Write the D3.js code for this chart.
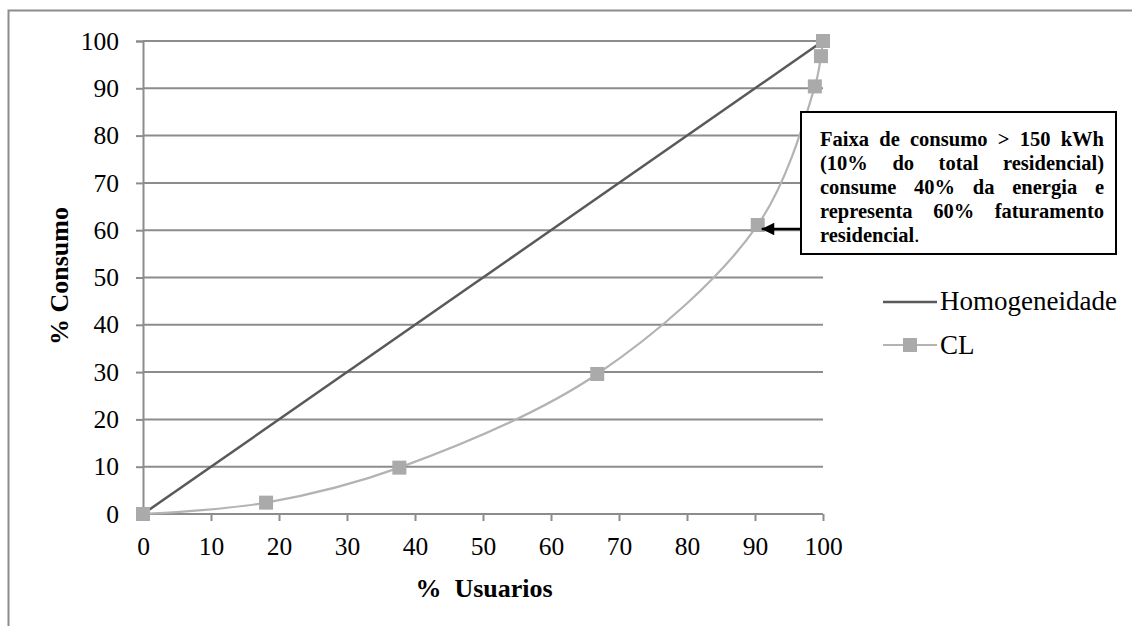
<!DOCTYPE html>
<html>
<head>
<meta charset="utf-8">
<script src="https://cdn.jsdelivr.net/npm/d3@7"></script>
<style>
  body { margin: 0; background: #fff; }
  text { font-family: "Liberation Serif", "Times New Roman", serif; }
</style>
</head>
<body>
<div id="chart"></div>
<script>
// data
var xTicks = [0, 10, 20, 30, 40, 50, 60, 70, 80, 90, 100];
var yTicks = [0, 10, 20, 30, 40, 50, 60, 70, 80, 90, 100];
var homogX = [0, 100];
var homogY = [0, 100];
var clX = [0, 18.1, 37.7, 66.8, 90.4, 98.8, 99.7, 100];
var clY = [0, 2.4, 9.8, 29.6, 61.1, 90.4, 96.8, 100];
var noteLines = ["Faixa de consumo > 150 kWh", "(10% do total residencial)",
                 "consume 40% da energia e", "representa 60% faturamento", "residencial"];

var svg = d3.select("#chart").append("svg")
  .attr("width", 1132).attr("height", 626);

// outer frame
svg.append("rect")
  .attr("x", 8.5).attr("y", 10.5)
  .attr("width", 1140).attr("height", 640)
  .attr("fill", "none").attr("stroke", "#8c8c8c").attr("stroke-width", 2);

var xScale = d3.scaleLinear().domain([0, 100]).range([143, 823]);
var yScale = d3.scaleLinear().domain([0, 100]).range([514, 41]);

// y axis
var yAxis = d3.axisLeft(yScale).tickValues(yTicks).tickSize(7).tickPadding(17);
var yG = svg.append("g").attr("id", "yAxisG").attr("transform", "translate(143,0)").call(yAxis);
yG.select(".domain").attr("stroke", "#8c8c8c").attr("stroke-width", 2);
yG.selectAll("line").attr("stroke", "#8c8c8c").attr("stroke-width", 2);
yG.selectAll("text").style("font-size", "25.5px").attr("fill", "#000")
  .style("font-family", "Liberation Serif");

// gridlines
svg.append("g").selectAll("line.grid")
  .data(yTicks.filter(function(d) { return d > 0; }))
  .enter().append("line")
  .attr("x1", xScale(0)).attr("x2", xScale(100))
  .attr("y1", function(d) { return yScale(d); })
  .attr("y2", function(d) { return yScale(d); })
  .attr("stroke", "#8c8c8c").attr("stroke-width", 2);

// x axis
var xAxis = d3.axisBottom(xScale).tickValues(xTicks).tickSize(7).tickPadding(16);
var xG = svg.append("g").attr("id", "xAxisG").attr("transform", "translate(0,514)").call(xAxis);
xG.select(".domain").attr("d", "M143,0H823").attr("stroke", "#8c8c8c").attr("stroke-width", 2);
xG.selectAll("line").attr("stroke", "#8c8c8c").attr("stroke-width", 2);
xG.selectAll("text").style("font-size", "25.5px").attr("fill", "#000")
  .style("font-family", "Liberation Serif");

// axis titles
svg.append("text")
  .attr("x", 484).attr("y", 597)
  .attr("text-anchor", "middle")
  .style("font-size", "26px").style("font-weight", "bold")
  .style("white-space", "pre")
  .text("%  Usuarios");

svg.append("text")
  .attr("transform", "translate(68,276) rotate(-90)")
  .attr("text-anchor", "middle")
  .style("font-size", "26px").style("font-weight", "bold")
  .text("% Consumo");

// series
var homogData = homogX.map(function(x, i) { return {x: x, y: homogY[i]}; });
var clData = clX.map(function(x, i) { return {x: x, y: clY[i]}; });

var straight = d3.line()
  .x(function(d) { return xScale(d.x); })
  .y(function(d) { return yScale(d.y); });
var smooth = d3.line()
  .x(function(d) { return xScale(d.x); })
  .y(function(d) { return yScale(d.y); })
  .curve(d3.curveCatmullRom);

svg.append("path")
  .attr("d", straight(homogData))
  .attr("fill", "none").attr("stroke", "#595959").attr("stroke-width", 2.5);

svg.append("path")
  .attr("d", smooth(clData))
  .attr("fill", "none").attr("stroke", "#b3b3b3").attr("stroke-width", 2.2);

svg.selectAll("rect.cl")
  .data(clData)
  .enter().append("rect")
  .attr("class", "cl")
  .attr("x", function(d) { return xScale(d.x) - 7; })
  .attr("y", function(d) { return yScale(d.y) - 7; })
  .attr("width", 14).attr("height", 14)
  .attr("fill", "#aaaaaa");

// legend
var legend = svg.append("g").attr("transform", "translate(883,0)");
legend.append("line").attr("x1", 0).attr("x2", 54).attr("y1", 302).attr("y2", 302)
  .attr("stroke", "#595959").attr("stroke-width", 2.5);
legend.append("text").attr("x", 57).attr("y", 310).style("font-size", "27px").text("Homogeneidade");
legend.append("line").attr("x1", 0).attr("x2", 54).attr("y1", 345).attr("y2", 345)
  .attr("stroke", "#b3b3b3").attr("stroke-width", 2.2);
legend.append("rect").attr("x", 20).attr("y", 338).attr("width", 14).attr("height", 14)
  .attr("fill", "#aaaaaa");
legend.append("text").attr("x", 57).attr("y", 354).style("font-size", "27px").text("CL");

// annotation
var box = {x: 801, y: 112, w: 315, h: 142};
svg.append("rect")
  .attr("x", box.x).attr("y", box.y).attr("width", box.w).attr("height", box.h)
  .attr("fill", "#fff").attr("stroke", "#000").attr("stroke-width", 2);

var note = svg.append("g");
var lineWidth = 284;
noteLines.forEach(function(line, i) {
  var t = note.append("text")
    .attr("x", box.x + 19).attr("y", box.y + 34 + i * 24)
    .style("font-size", "20.5px").style("font-weight", "bold")
    .style("white-space", "pre");
  t.text(line);
  if (i < noteLines.length - 1) {
    // justify by widening the word gaps
    var gaps = line.split(" ").length - 1;
    var extra = (lineWidth - t.node().getComputedTextLength()) / gaps;
    t.style("word-spacing", Math.max(0, extra) + "px");
  } else {
    t.append("tspan").style("font-weight", "normal").text(".");
  }
});

svg.append("defs").append("marker")
  .attr("id", "arrow").attr("viewBox", "0 0 10 10")
  .attr("refX", 10).attr("refY", 5)
  .attr("markerWidth", 6).attr("markerHeight", 5)
  .attr("orient", "auto")
  .append("path").attr("d", "M0,0L10,5L0,10Z").attr("fill", "#000");

svg.append("line")
  .attr("x1", box.x).attr("y1", yScale(clY[4]) + 4)
  .attr("x2", xScale(clX[4]) + 4).attr("y2", yScale(clY[4]) + 4)
  .attr("stroke", "#000").attr("stroke-width", 2.5)
  .attr("marker-end", "url(#arrow)");
</script>
</body>
</html>
